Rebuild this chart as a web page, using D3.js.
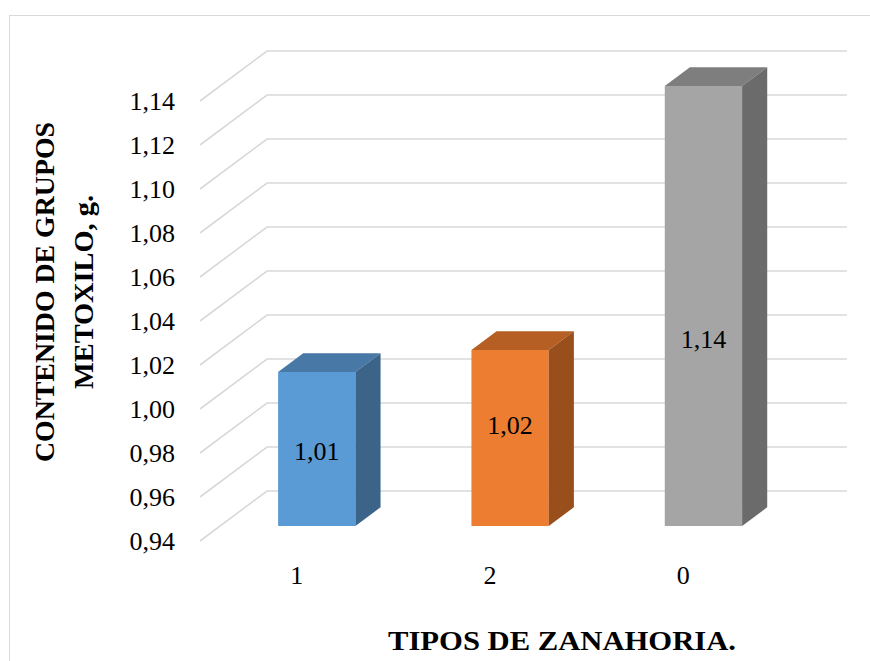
<!DOCTYPE html>
<html>
<head>
<meta charset="utf-8">
<script src="https://cdn.jsdelivr.net/npm/d3@7"></script>
<style>
  html, body { margin: 0; padding: 0; background: #fff; }
  svg { display: block; }
</style>
</head>
<body>
<script>
// Data
const categories = ["1", "2", "0"];
const values = [1.01, 1.02, 1.14];
const yTicks = [0.94, 0.96, 0.98, 1.00, 1.02, 1.04, 1.06, 1.08, 1.10, 1.12, 1.14];
const yTitleLines = ["CONTENIDO DE GRUPOS", "METOXILO, g."];
const xTitle = "TIPOS DE ZANAHORIA.";

// Colours per bar: front, top, side
const palette = [
  { front: "#5b9bd5", top: "#4878a6", side: "#3c6489" },
  { front: "#ed7d31", top: "#b55f25", side: "#994f1c" },
  { front: "#a5a5a5", top: "#7e7e7e", side: "#6b6b6b" }
];

// Layout
const W = 870, H = 661;
const FONT = "'Liberation Serif', 'Times New Roman', Tinos, 'DejaVu Serif', serif";
const front = { left: 200, right: 780, bottom: 541, top: 101 };
const depth = { dx: 67, dy: 50 };          // full depth of the plot box
const barZ0 = 0.3, barZ1 = 0.675;          // bar position inside the depth
const labelLevels = [0.974, 0.986, 1.025]; // value level where each data label sits

const fmt = v => d3.format(".2f")(v).replace(".", ",");

const svg = d3.select("body").append("svg")
  .attr("width", W).attr("height", H)
  .attr("font-family", FONT)
  .style("font-family", FONT);

// chart area border
svg.append("rect")
  .attr("x", 9.5).attr("y", 15.5)
  .attr("width", 900).attr("height", 700)
  .attr("fill", "#fff").attr("stroke", "#d9d9d9").attr("stroke-width", 1);

const y = d3.scaleLinear().domain([0.94, 1.14]).range([front.bottom, front.top]);
const x = d3.scaleBand().domain(categories)
  .range([front.left, front.right])
  .paddingInner(0.6).paddingOuter(0.3);

// projection of a point at depth z (0 = front, 1 = back)
const P = (px, py, z) => [px + z * depth.dx, py - z * depth.dy];

// gridlines: diagonal along the left wall, then horizontal along the back wall
const grid = svg.append("g")
  .attr("fill", "none").attr("stroke", "#d9d9d9").attr("stroke-width", 1.6);
yTicks.forEach(t => {
  const a = P(front.left, y(t), 0);
  const b = P(front.left, y(t), 1);
  const c = P(front.right, y(t), 1);
  grid.append("path").attr("d", d3.line()([a, b, c]));
});

// value axis labels
svg.append("g").selectAll("text").data(yTicks).join("text")
  .attr("x", 175).attr("y", d => y(d))
  .attr("dy", "0.35em")
  .attr("text-anchor", "end")
  .attr("font-size", 26)
  .text(d => fmt(d));

// 3D bars
const bars = svg.append("g");
values.forEach((v, i) => {
  const x0 = x(categories[i]), x1 = x0 + x.bandwidth();
  const yb = y(0.94), yt = y(v);
  const c = palette[i];
  const poly = pts => "M" + pts.map(p => p.join(",")).join("L") + "Z";
  const g = bars.append("g");
  // front face
  g.append("path").attr("fill", c.front)
    .attr("d", poly([P(x0, yt, barZ0), P(x1, yt, barZ0), P(x1, yb, barZ0), P(x0, yb, barZ0)]));
  // top face
  g.append("path").attr("fill", c.top)
    .attr("d", poly([P(x0, yt, barZ0), P(x1, yt, barZ0), P(x1, yt, barZ1), P(x0, yt, barZ1)]));
  // right side face
  g.append("path").attr("fill", c.side)
    .attr("d", poly([P(x1, yt, barZ0), P(x1, yt, barZ1), P(x1, yb, barZ1), P(x1, yb, barZ0)]));
  // data label on the front face
  const lp = P(x0 + x.bandwidth() / 2, y(labelLevels[i]), barZ0);
  g.append("text")
    .attr("x", lp[0]).attr("y", lp[1])
    .attr("dy", "0.35em")
    .attr("text-anchor", "middle")
    .attr("font-size", 26)
    .text(fmt(v));
});

// category labels
svg.append("g").selectAll("text").data(categories).join("text")
  .attr("x", d => x(d) + x.bandwidth() / 2)
  .attr("y", 575)
  .attr("dy", "0.35em")
  .attr("text-anchor", "middle")
  .attr("font-size", 26)
  .text(d => d);

// axis titles
svg.append("text")
  .attr("x", 562).attr("y", 641)
  .attr("dy", "0.35em")
  .attr("text-anchor", "middle")
  .attr("font-size", 27).attr("font-weight", "bold")
  .attr("textLength", 348).attr("lengthAdjust", "spacingAndGlyphs")
  .text(xTitle);

const yt = svg.append("text")
  .attr("transform", "translate(0,292) rotate(-90)")
  .attr("text-anchor", "middle")
  .attr("font-size", 27).attr("font-weight", "bold");
const yTitleLengths = [340, 194];
yTitleLines.forEach((line, i) => {
  yt.append("tspan").attr("x", 0).attr("y", 54 + i * 39)
    .attr("textLength", yTitleLengths[i]).attr("lengthAdjust", "spacingAndGlyphs")
    .text(line);
});
</script>
</body>
</html>
